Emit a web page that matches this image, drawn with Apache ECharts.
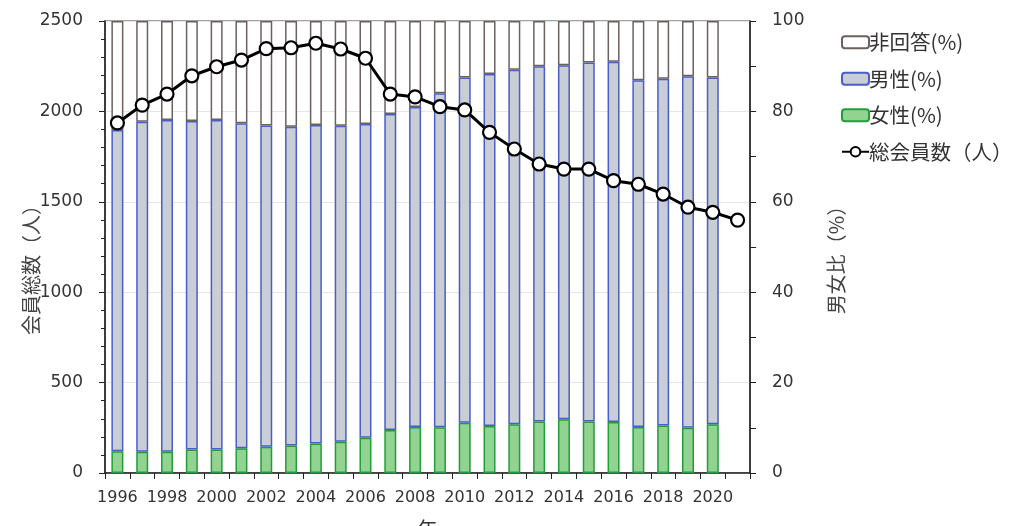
<!DOCTYPE html>
<html><head><meta charset="utf-8">
<script src="https://cdn.jsdelivr.net/npm/echarts@6/dist/echarts.min.js"></script>
<style>html,body{margin:0;padding:0;background:#fff}#c{width:1011px;height:526px}</style>
</head><body><div id="c"></div>
<script>
const years = ['1996','1997','1998','1999','2000','2001','2002','2003','2004','2005','2006','2007','2008','2009','2010','2011','2012','2013','2014','2015','2016','2017','2018','2019','2020','2021'];
const femalePct = [4.8,4.7,4.7,5.2,5.2,5.5,5.8,6.1,6.5,6.9,7.8,9.5,10.2,10.1,11.1,10.4,10.8,11.4,11.9,11.4,11.3,10.2,10.5,10.0,10.8,null];
const malePct = [71.1,73.0,73.4,72.7,72.9,71.9,71.1,70.5,70.5,69.9,69.4,69.9,70.8,73.9,76.4,77.9,78.4,78.6,78.3,79.4,79.7,76.7,76.7,77.8,76.7,null];
const noAnswerPct = [24.1,22.3,21.9,22.1,21.9,22.6,23.1,23.4,23.0,23.2,22.8,20.6,19.0,16.0,12.5,11.7,10.8,10.0,9.8,9.2,9.0,13.1,12.8,12.2,12.5,null];
const totalMembers = [1936,2035,2096,2197,2247,2284,2347,2352,2377,2345,2294,2096,2080,2026,2008,1884,1792,1709,1681,1681,1617,1597,1543,1470,1442,1399];
const leftTicks = {min:0,max:2500,interval:500};
const rightTicks = {min:0,max:100,interval:20};

const font = 'DejaVu Sans';
const cjk = '"Noto Sans CJK JP"';
const chart = echarts.init(document.getElementById('c'));
chart.setOption({
  animation:false,
  backgroundColor:'#fff',
  grid:{left:105,right:261,top:21,bottom:53,outerBoundsMode:'none',containLabel:false,
    show:true,borderColor:'#444',borderWidth:1.2,backgroundColor:'transparent'},
  legend:{
    data:['非回答(%)','男性(%)','女性(%)','総会員数（人）'],
    orient:'vertical',left:836,top:27,itemGap:16,itemWidth:27,itemHeight:12,
    textStyle:{fontFamily:cjk,fontSize:20.5,color:'#333',padding:[0,0,0,-5]}
  },
  xAxis:{
    type:'category',data:years,
    name:'年',nameLocation:'middle',nameGap:46,nameMoveOverlap:false,
    nameTextStyle:{fontFamily:cjk,fontSize:20,color:'#333'},
    axisLine:{lineStyle:{color:'#222',width:1.5}},
    axisTick:{show:true,alignWithLabel:false,interval:0,length:6,lineStyle:{color:'#222'}},
    axisLabel:{interval:1,fontFamily:font,fontSize:16,color:'#333',margin:17},
    splitLine:{show:false}
  },
  yAxis:[{
    type:'value',min:leftTicks.min,max:leftTicks.max,interval:leftTicks.interval,
    name:'会員総数（人）',nameLocation:'middle',nameGap:64,nameRotate:90,nameMoveOverlap:false,
    nameTextStyle:{fontFamily:cjk,fontSize:20,color:'#444',padding:[0,36,0,0]},
    axisLine:{show:true,lineStyle:{color:'#222',width:1.5}},
    axisTick:{show:true,length:6,lineStyle:{color:'#222'}},
    minorTick:{show:true,splitNumber:5,length:4,lineStyle:{color:'#222'}},
    axisLabel:{fontFamily:font,fontSize:17,color:'#333',margin:22,formatter:v=>String(v)},
    splitLine:{show:true,lineStyle:{color:'#e6e6e6',width:1}}
  },{
    type:'value',min:rightTicks.min,max:rightTicks.max,interval:rightTicks.interval,
    name:'男女比（%）',nameLocation:'middle',nameGap:76,nameRotate:90,nameMoveOverlap:false,
    nameTextStyle:{fontFamily:cjk,fontSize:20,color:'#444',padding:[0,16,0,0]},
    axisLine:{show:true,lineStyle:{color:'#222',width:1.5}},
    axisTick:{show:true,length:6,lineStyle:{color:'#222'}},
    minorTick:{show:true,splitNumber:2,length:6,lineStyle:{color:'#222'}},
    axisLabel:{fontFamily:font,fontSize:17,color:'#333',margin:22,formatter:v=>String(v)},
    splitLine:{show:false}
  }],
  series:[
    {name:'女性(%)',type:'bar',yAxisIndex:1,stack:'p',data:femalePct,barWidth:12,
      itemStyle:{color:'#92d392',borderColor:'#1f9e3a',borderWidth:1.5}},
    {name:'男性(%)',type:'bar',yAxisIndex:1,stack:'p',data:malePct,barWidth:12,
      itemStyle:{color:'#c9cdd5',borderColor:'#4a5ec8',borderWidth:1.5}},
    {name:'非回答(%)',type:'bar',yAxisIndex:1,stack:'p',data:noAnswerPct,barWidth:12,
      itemStyle:{color:'#ffffff',borderColor:'#6b6260',borderWidth:1.5}},
    {name:'総会員数（人）',type:'line',yAxisIndex:0,data:totalMembers,
      symbol:'circle',symbolSize:13,z:10,
      lineStyle:{color:'#000',width:3},
      itemStyle:{color:'#fff',borderColor:'#000',borderWidth:2.2}}
  ]
});
</script></body></html>
